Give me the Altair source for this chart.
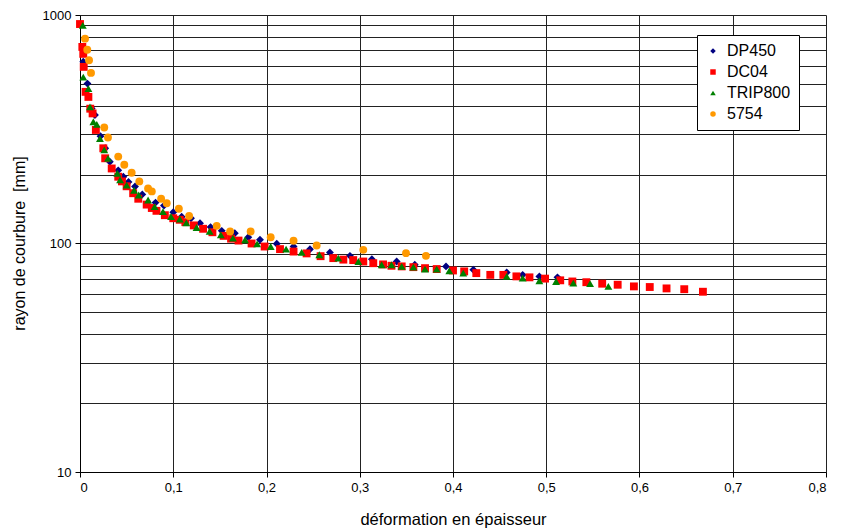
import altair as alt
import pandas as pd

series_names = ["DP450", "DC04", "TRIP800", "5754"]
series_colors = ["#000080", "#FF0000", "#008000", "#FF9900"]
series_shapes = ["diamond", "square", "triangle-up", "circle"]

dp450_x = [0.0035, 0.008, 0.0125, 0.016, 0.022, 0.027, 0.032, 0.041, 0.0465, 0.052, 0.059, 0.0668,
           0.081, 0.090, 0.100, 0.109, 0.119, 0.1287, 0.140, 0.152, 0.166, 0.1805, 0.193, 0.211,
           0.229, 0.2466, 0.268, 0.2895, 0.313, 0.3396, 0.359, 0.3925, 0.4218, 0.4576, 0.4747,
           0.4926, 0.512]
dp450_y = [624, 501, 390, 365, 295, 261, 228, 209, 196, 186, 177.5, 164,
           151, 146.5, 137, 131, 129, 122.7, 118, 113.6, 110.9, 106.5, 103.8, 99.7,
           97, 94.4, 91.4, 88.3, 85.4, 83.4, 80.7, 79.4, 76.8, 74.7, 72.9,
           71.8, 71.1]

dc04_x = [0.000, 0.0025, 0.0035, 0.004, 0.006, 0.009, 0.011, 0.0135, 0.017, 0.025, 0.027, 0.034,
          0.041, 0.045, 0.050, 0.057, 0.0625, 0.0715, 0.077, 0.082, 0.091, 0.100, 0.107, 0.113,
          0.122, 0.132, 0.142, 0.154, 0.162, 0.170, 0.184, 0.198, 0.2145, 0.229, 0.243, 0.258,
          0.2716, 0.2824, 0.293, 0.3038, 0.3145, 0.325, 0.334, 0.345, 0.3575, 0.370, 0.3825,
          0.400, 0.412, 0.425, 0.440, 0.454, 0.468, 0.482, 0.4987, 0.515, 0.528, 0.543, 0.560,
          0.5766, 0.594, 0.611, 0.629, 0.648, 0.668]
dc04_y = [913, 725, 676, 593, 461, 438, 389, 371, 314, 261, 236, 213,
          196, 187, 178, 166, 157, 148, 143, 139, 133, 129, 127, 124,
          120, 116, 112, 108, 105, 103, 100, 97, 94.5, 92.2, 90.5, 88,
          86.3, 85, 84.6, 83.4, 82, 81, 79.9, 79.4, 78.8, 78, 77.3,
          76.2, 75.5, 74.2, 72.9, 72.9, 71.8, 71.1, 70.2, 69, 68.2, 67.7, 66.7,
          66, 64.9, 64.5, 63.6, 63.1, 61.5]

trip800_x = [0.003, 0.0035, 0.009, 0.0107, 0.0143, 0.018, 0.0214, 0.026, 0.030, 0.040, 0.043, 0.050,
             0.058, 0.063, 0.073, 0.080, 0.089, 0.0976, 0.107, 0.114, 0.125, 0.139, 0.151, 0.164,
             0.177, 0.190, 0.2045, 0.221, 0.2377, 0.2566, 0.277, 0.2985, 0.3235, 0.334, 0.345,
             0.3575, 0.370, 0.3825, 0.396, 0.411, 0.4576, 0.4747, 0.4926, 0.5105, 0.529, 0.547,
             0.5666]
trip800_y = [901, 535, 476, 396, 341, 332, 288, 257, 236, 203, 190, 180,
             171, 163, 155, 145, 138, 131, 128, 123, 117.5, 113, 109, 105.5,
             103.8, 99.7, 97, 94.5, 91.4, 89.3, 86.3, 83.4, 80.7, 80.7, 79.4,
             78.8, 77.3, 77.3, 75.9, 74.2, 71.8, 70.5, 68.7, 68.2, 67.1, 66.7,
             64.9]

a5754_x = [0.0054, 0.0078, 0.0097, 0.0118, 0.026, 0.030, 0.041, 0.0475, 0.0554, 0.0636, 0.073, 0.077,
           0.087, 0.093, 0.106, 0.117, 0.1466, 0.161, 0.183, 0.2045, 0.229, 0.2538, 0.3038,
           0.3496, 0.371]
a5754_y = [788, 705, 634, 558, 322, 291, 240, 221, 204, 187, 174, 169,
           157, 150, 142, 132, 119.5, 112.8, 112.8, 106.5, 102.8, 98, 93.8,
           90.7, 88.3]

x_ticks = [0, 0.1, 0.2, 0.3, 0.4, 0.5, 0.6, 0.7, 0.8]
y_grid = [10, 20, 30, 40, 50, 60, 70, 80, 90, 100, 200, 300, 400, 500, 600, 700, 800, 900, 1000]

rows = []
for name, xs, ys in [("DP450", dp450_x, dp450_y), ("DC04", dc04_x, dc04_y),
                     ("TRIP800", trip800_x, trip800_y), ("5754", a5754_x, a5754_y)]:
    for xv, yv in zip(xs, ys):
        rows.append({"serie": name, "x": xv, "y": yv, "ord": len(rows)})
df = pd.DataFrame(rows)

FONT = "Liberation Sans, Arial, sans-serif"
major_test = "indexof([10,100,1000], datum.value) >= 0"

chart = alt.Chart(df).mark_point(filled=True, opacity=1, size=62).encode(
    x=alt.X("x:Q",
            scale=alt.Scale(domain=[0, 0.8], nice=False, zero=False),
            axis=alt.Axis(values=x_ticks, title="déformation en épaisseur",
                          labelExpr="replace(format(datum.value, '.1~f'), '.', ',')",
                          tickSize=5, labelPadding=4, titlePadding=17,
                          labelFontSize=13, titleFontSize=16.5, titleFontWeight="normal",
                          gridColor="#222", gridOpacity=1, gridWidth=1)),
    y=alt.Y("y:Q",
            scale=alt.Scale(type="log", domain=[10, 1000], nice=False),
            axis=alt.Axis(values=y_grid, title="rayon de courbure \u00a0[mm]",
                          labelExpr=major_test + " ? format(datum.value, 'd') : ''",
                          labelOverlap=False,
                          tickOpacity={"condition": {"test": major_test, "value": 1}, "value": 0},
                          tickSize=5, labelPadding=4,
                          labelFontSize=13, titleFontSize=16, titleFontWeight="normal",
                          titleX=-61, titleY=228, titleAlign="center", titleBaseline="middle",
                          gridColor="#222", gridOpacity=1, gridWidth=1)),
    color=alt.Color("serie:N", scale=alt.Scale(domain=series_names, range=series_colors),
                    legend=alt.Legend(title=None, orient="none", legendX=617, legendY=20,
                                      strokeColor="black", fillColor="white", padding=8,
                                      labelFontSize=16, symbolSize=30, rowPadding=5,
                                      labelOffset=6, symbolStrokeWidth=0)),
    shape=alt.Shape("serie:N", scale=alt.Scale(domain=series_names, range=series_shapes)),
    order=alt.Order("ord:Q"),
).properties(
    width=746, height=457,
    padding={"left": 72, "top": 7, "right": 9, "bottom": 58},
    autosize=alt.AutoSizeParams(type="none"),
).configure_axis(
    labelFont=FONT, titleFont=FONT, labelColor="black", titleColor="black",
    domainColor="black", tickColor="black",
).configure_legend(
    labelFont=FONT, labelColor="black",
).configure_view(stroke=None)

chart.save("out.html", embed_options={"renderer": "svg", "actions": False})
